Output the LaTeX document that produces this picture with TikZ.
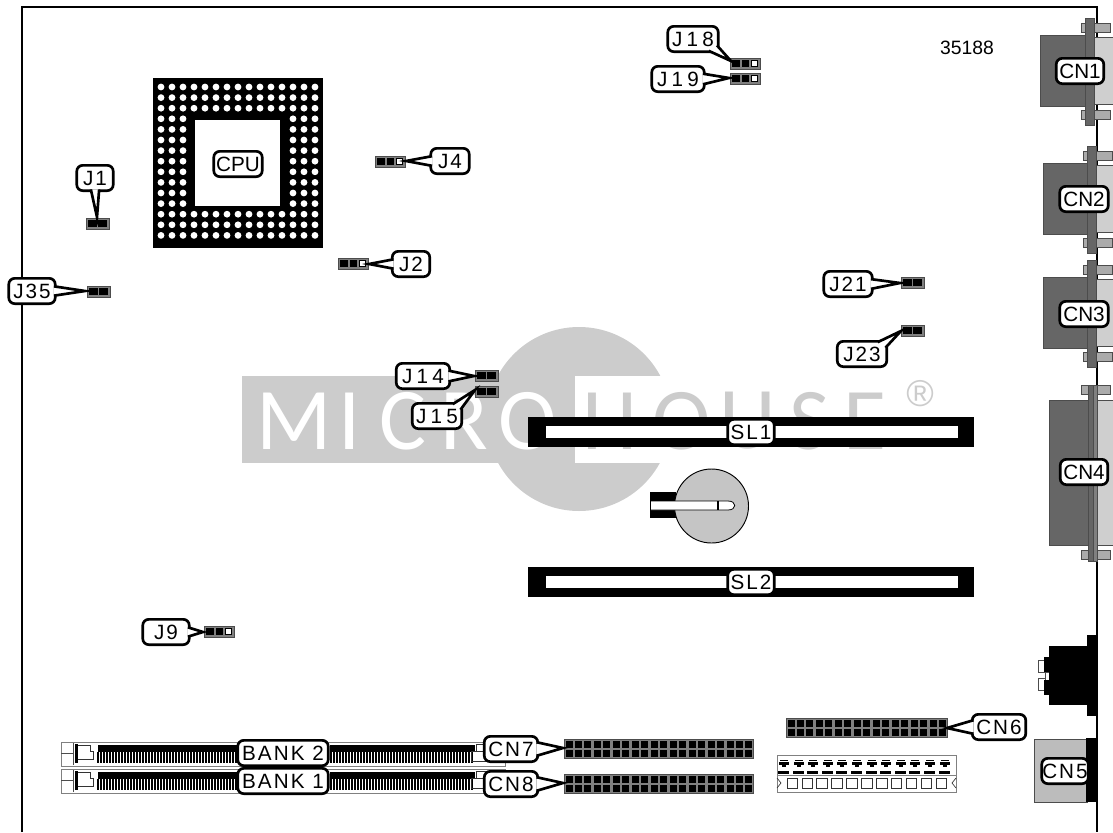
\documentclass[tikz,border=0pt]{standalone}
\usepackage{fontspec}
\setmainfont{Liberation Sans}
\newfontfamily\widefont[LetterSpace=10]{Liberation Sans}
\newfontfamily\widerfont[LetterSpace=20]{Liberation Sans}
\newfontfamily\logofont{Carlito}
\usetikzlibrary{calc}
\definecolor{logogrey}{HTML}{CCCCCC}
\definecolor{darkshell}{HTML}{666666}
\definecolor{lightshell}{HTML}{CFCFCF}
\definecolor{screwgrey}{HTML}{ABABAB}
\definecolor{framegrey}{HTML}{808080}
\tikzset{
	tag/.style={draw, fill=white, rounded corners=4.5pt, line width=2pt, inner sep=0pt, outer sep=0pt,
		minimum height=19pt, minimum width=(#1-2.5)*0.75pt, font=\fontsize{15.5}{18}\selectfont},
	widetag/.style={tag=#1, font=\fontsize{15.5}{18}\selectfont\widefont},
	widertag/.style={tag=#1, font=\fontsize{15.5}{18}\selectfont\widerfont},
	tail/.style={draw, fill=white, line width=2pt},
	shellline/.style={draw=black!70, line width=0.4pt},
	logoletter/.style={font=\fontsize{66}{70}\selectfont\logofont, inner sep=0pt}
}
\begin{document}
\begin{tikzpicture}[x=0.75pt, y=-0.75pt]
	\useasboundingbox (0,0) rectangle (1113,832);
	%logo
	\fill[logogrey] (242,376) rectangle (575,463);
	\fill[logogrey] (579,419) circle (92);
	\fill[white] (575,376) rectangle (1000,463);
	\foreach \c/\x [count=\i] in {M/294, I/350, C/403, R/464, O/528} {
		\node[logoletter, white] (micro\i) at (\x,421) {\c};
	}
	\foreach \c/\x [count=\i] in {H/610, O/682, U/748, S/810, E/865} {
		\node[logoletter, logogrey] (house\i) at (\x,421) {\c};
	}
	\node[logogrey, inner sep=0pt, font=\fontsize{28}{30}\selectfont] (regmark) at (920,394) {\textregistered};
	%board
	\draw[line width=1.1pt] (22,832) -- (22,7) -- (1097,7) -- (1097,832);
	\node[inner sep=0pt, font=\fontsize{14.5}{16}\selectfont] (drawingno) at (967,48) {35188};
	%cpu
	\fill (153,78) rectangle (323,248);
	\fill[white] (195,120) rectangle (280,206);
	\foreach \i in {0,...,14} {
		\foreach \j in {0,...,14} {
			\ifnum\i>2 \ifnum\i<12 \ifnum\j>2 \ifnum\j<12 \else
				\fill[white] (161+\i*11,87+\j*10.6) circle (3.4);
			\fi \else
				\fill[white] (161+\i*11,87+\j*10.6) circle (3.4);
			\fi \else
				\fill[white] (161+\i*11,87+\j*10.6) circle (3.4);
			\fi \else
				\fill[white] (161+\i*11,87+\j*10.6) circle (3.4);
			\fi
		}
	}
	%d-shell connectors
	\foreach \fx/\bx/\t in {1085/1040/18, 1087/1043/146, 1087/1043/260} {
		\filldraw[shellline, fill=lightshell] (\fx+9,\t+19) rectangle (1114,\t+86);
		\filldraw[shellline, fill=darkshell] (\bx,\t+17) rectangle (\fx+1,\t+88);
		\filldraw[shellline, fill=darkshell] (\fx,\t) rectangle (\fx+9,\t+107);
		\foreach \s in {5, 92} {
			\filldraw[shellline, fill=screwgrey] (\fx+9,\t+\s) rectangle +(16,9);
			\filldraw[shellline, fill=screwgrey] (\fx-4,\t+\s) rectangle +(4,9);
		}
	}
	\filldraw[shellline, fill=lightshell] (1097,400) rectangle (1114,545);
	\filldraw[shellline, fill=darkshell] (1049,400) rectangle (1093,545);
	\foreach \y in {385, 550} {
		\filldraw[shellline, fill=screwgrey] (1081,\y) rectangle (1110,\y+9);
	}
	\filldraw[shellline, fill=darkshell] (1088,385) rectangle (1093,561);
	\filldraw[shellline, fill=framegrey] (1093,385) rectangle (1097,561);
	%audio jack
	\filldraw[shellline, fill=white] (1038,660) rectangle (1045,672);
	\filldraw[shellline, fill=white] (1038,678) rectangle (1045,690);
	\filldraw[shellline, fill=white] (1045,672) rectangle (1049,680);
	\fill (1049,646) rectangle (1097,705);
	\fill (1087,635) rectangle (1097,716);
	\fill (1044,657) rectangle (1050,672);
	\fill (1044,680) rectangle (1050,695);
	%cn5 body
	\filldraw[shellline, fill=screwgrey!80] (1034,739) rectangle (1087,802);
	\fill (1086,738) rectangle (1097,802);
	%slots
	\foreach \y in {417, 567} {
		\fill (528,\y) rectangle (974,\y+30);
		\fill[white] (546,\y+9) rectangle (958,\y+21);
	}
	%battery
	\fill (650,492) rectangle (676,518);
	\filldraw[line width=0.7pt, fill=lightshell!95!black] (711.5,506) circle (37);
	\filldraw[line width=0.6pt, fill=white] (651,501) -- (728,501) .. controls (737,501) and (737,510) .. (728,510) -- (651,510);
	\draw[line width=1pt] (718,501) -- (718,510);
	%banks
	\foreach \y in {742, 769} {
		\draw[framegrey, line width=0.7pt] (61,\y) rectangle (505,\y+24);
		\draw[black!70, line width=0.5pt] (73,\y+1) -- (73,\y+23);
		\draw[black!70, line width=0.5pt] (61,\y+11) -- (73,\y+11);
		\fill (75,\y+2) rectangle (78,\y+21);
		\draw[black!80, line width=0.5pt] (78,\y+3) -- (90,\y+3) -- (90,\y+9) -- (93,\y+9) -- (93,\y+17) -- (78,\y+17);
		\foreach \xa/\xb in {98/237, 330/475} {
			\fill (\xa,\y+3) rectangle (\xb,\y+10);
		}
		\foreach \x in {98,101,...,236} {
			\draw[line width=1pt] (\x,\y+10) -- (\x,\y+21);
		}
		\foreach \x in {331,334,...,474} {
			\draw[line width=1pt] (\x,\y+10) -- (\x,\y+21);
		}
		\draw[black!80, line width=0.5pt] (476,\y+9) -- (476,\y+2) -- (486,\y+2) -- (486,\y+9);
		\draw[black!80, line width=0.5pt] (471,\y+19) -- (471,\y+9) -- (486,\y+9) -- (486,\y+19) -- cycle;
	}
	%pin headers
	\foreach \x/\y/\n in {564/739/19, 564/774/19, 786/718/16} {
		\filldraw[fill=framegrey, draw=black!70, line width=0.5pt] (\x,\y) rectangle +(\n*9.47+9.47,19);
		\foreach \i in {0,...,\n} {
			\fill (\x+1.5+\i*9.47,\y+2) rectangle +(7,7);
			\fill (\x+1.5+\i*9.47,\y+10.5) rectangle +(7,7);
		}
	}
	%power connector
	\draw[framegrey, line width=0.7pt] (777,755) rectangle (956,792);
	\draw[framegrey, line width=0.5pt] (777,775) -- (956,775);
	\foreach \i in {0,...,11} {
		\draw[line width=0.5pt] (\i*14.6+780,760) -- +(8,0);
		\fill (\i*14.6+779,762) rectangle +(10,2.5);
		\fill (\i*14.6+782,764) rectangle +(4,3);
		\fill (\i*14.6+778,771) rectangle +(11,3);
	}
	\foreach \i in {0,...,10} {
		\draw[black!80, line width=0.5pt] (\i*14.9+787,778) rectangle +(10.5,10.5);
	}
	\draw[black!80, line width=0.5pt] (777,778) -- (781,783) -- (777,788);
	\draw[black!80, line width=0.5pt] (956,778) -- (952,783) -- (956,788);
	%jumpers with three pins
	\foreach \name/\x/\y in {J18/730/58, J19/730/73, J4/375/156, J2/338/258, J9/204/626} {
		\filldraw[fill=framegrey, draw=black!70, line width=0.5pt] (\x,\y) rectangle +(30,11);
		\fill (\x+2,\y+2) rectangle +(8,7);
		\fill (\x+12,\y+2) rectangle +(7,7);
		\filldraw[fill=white, line width=0.4pt] (\x+21,\y+2.5) rectangle +(6,6);
	}
	%jumpers with two pins
	\foreach \name/\x/\y in {J1/86/218, J35/87/286, J21/901/277, J23/901/325, J14/475/370, J15/475/386} {
		\filldraw[fill=framegrey, draw=black!70, line width=0.5pt] (\x,\y) rectangle +(23,11);
		\fill (\x+2,\y+2) rectangle +(9,7);
		\fill (\x+12,\y+2) rectangle +(9,7);
	}
	%ends of the callouts
	\coordinate (pJ18) at (731,61);
	\coordinate (pJ19) at (729,78);
	\coordinate (pJ4) at (406,161);
	\coordinate (pJ1) at (97,217);
	\coordinate (pJ2) at (369,264);
	\coordinate (pJ35) at (85,291);
	\coordinate (pJ21) at (900,283);
	\coordinate (pJ23) at (901,331);
	\coordinate (pJ14) at (474,376);
	\coordinate (pJ15) at (475,390);
	\coordinate (pJ9) at (203,632);
	\coordinate (pCN6) at (947,728);
	\coordinate (pCN7) at (563,748);
	\coordinate (pCN8) at (563,783);
	%labels
	\node[tag=51] (CPU) at (238,164) {CPU};
	\node[tag=50] (CN1) at (1080,71) {CN1};
	\node[tag=51] (CN2) at (1084,199) {CN2};
	\node[tag=51] (CN3) at (1084,314) {CN3};
	\node[tag=50] (CN4) at (1084,472) {CN4};
	\node[widetag=49] (CN5) at (1065,771) {CN5};
	\node[widetag=49] (SL1) at (751,432) {SL1};
	\node[widetag=49] (SL2) at (751,582) {SL2};
	\node[widetag=93] (BANK2) at (283,753) {BANK 2};
	\node[widetag=93] (BANK1) at (283,781) {BANK 1};
	\node[widertag=53] (J18) at (693,39) {J18};
	\node[widertag=55] (J19) at (678,79) {J19};
	\node[widetag=41] (J4) at (450,161) {J4};
	\node[widetag=39] (J1) at (95,178) {J1};
	\node[widetag=40] (J2) at (411,264) {J2};
	\node[widetag=49] (J35) at (32,291) {J35};
	\node[widetag=51] (J21) at (848,284) {J21};
	\node[widetag=52] (J23) at (862,354) {J23};
	\node[widertag=56] (J14) at (423,376) {J14};
	\node[widertag=52] (J15) at (437,416) {J15};
	\node[widetag=49] (J9) at (166,632) {J9};
	\node[widetag=56] (CN6) at (999,727) {CN6};
	\node[widetag=56] (CN7) at (511,749) {CN7};
	\node[widetag=56] (CN8) at (511,784) {CN8};
	%callout tails
	\foreach \name/\a/\b in {J18/-37/-15, J19/-12/12, J4/165/195, J1/-110/-70, J2/165/195, J35/-12/12,
		J21/-12/12, J23/15/37, J14/-12/12, J15/15/37, J9/-12/12, CN6/165/195, CN7/-15/15, CN8/-15/15} {
		\filldraw[tail] ($(\name.\a)!1pt!(\name.center)$) -- (p\name) -- ($(\name.\b)!1pt!(\name.center)$);
	}
\end{tikzpicture}
\end{document}
